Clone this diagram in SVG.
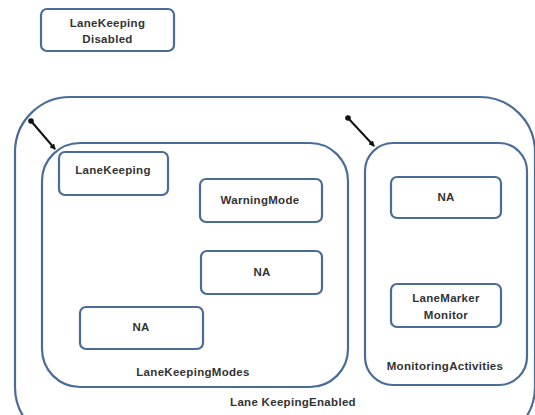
<svg xmlns="http://www.w3.org/2000/svg" width="535" height="415" viewBox="0 0 535 415">
<defs>
<style>
.box{fill:#fff;stroke:#4a6c9b;stroke-width:2.2}
.cont{fill:none;stroke:#4a6c9b;stroke-width:2.2}
.t{font-family:"Liberation Sans",Arial,sans-serif;font-weight:bold;font-size:11.5px;letter-spacing:0.3px;fill:#333;text-anchor:middle}
.c{stroke:#111;stroke-width:2;fill:none}
</style>
<marker id="ah" markerWidth="6" markerHeight="6" refX="5" refY="3" orient="auto" markerUnits="userSpaceOnUse">
<path d="M0,0 L6,3 L0,6 z" fill="#111"/>
</marker>
<marker id="dot" markerWidth="6" markerHeight="6" refX="3" refY="3" markerUnits="userSpaceOnUse">
<circle cx="3" cy="3" r="2.8" fill="#111"/>
</marker>
</defs>
<rect width="535" height="415" fill="#fff"/>
<g id="LaneKeepingDisabled">
<rect class="box" x="41" y="9" width="133" height="42" rx="6"/>
<text class="t" x="107.5" y="27">LaneKeeping</text>
<text class="t" x="107.5" y="43">Disabled</text>
</g>
<g id="LaneKeepingEnabled">
<rect class="cont" x="15" y="97" width="520" height="345" rx="55"/>
<text class="t" x="293" y="406">Lane KeepingEnabled</text>
</g>
<g id="LaneKeepingModes">
<rect class="cont" x="42" y="143" width="306" height="244" rx="38"/>
<text class="t" x="193" y="376">LaneKeepingModes</text>
</g>
<g id="MonitoringActivities">
<rect class="cont" x="365" y="143" width="162" height="242" rx="28"/>
<text class="t" x="445" y="370">MonitoringActivities</text>
</g>
<g id="LaneKeeping">
<rect class="box" x="59" y="152" width="109" height="43" rx="6"/>
<text class="t" x="113" y="174">LaneKeeping</text>
</g>
<g id="WarningMode">
<rect class="box" x="200" y="179" width="122" height="43" rx="6"/>
<text class="t" x="260" y="204">WarningMode</text>
</g>
<g id="NA1">
<rect class="box" x="201" y="251" width="121" height="43" rx="6"/>
<text class="t" x="262" y="276">NA</text>
</g>
<g id="NA2">
<rect class="box" x="80" y="307" width="123" height="42" rx="6"/>
<text class="t" x="141" y="331">NA</text>
</g>
<g id="NA3">
<rect class="box" x="391" y="177" width="110" height="41" rx="6"/>
<text class="t" x="446" y="201">NA</text>
</g>
<g id="LaneMarkerMonitor">
<rect class="box" x="391" y="284" width="110" height="43" rx="6"/>
<text class="t" x="446" y="302">LaneMarker</text>
<text class="t" x="446" y="319">Monitor</text>
</g>
<g id="connectors">
<line class="c" x1="31" y1="121" x2="55" y2="149" marker-start="url(#dot)" marker-end="url(#ah)"/>
<line class="c" x1="348" y1="118" x2="374" y2="146" marker-start="url(#dot)" marker-end="url(#ah)"/>
</g>
</svg>
